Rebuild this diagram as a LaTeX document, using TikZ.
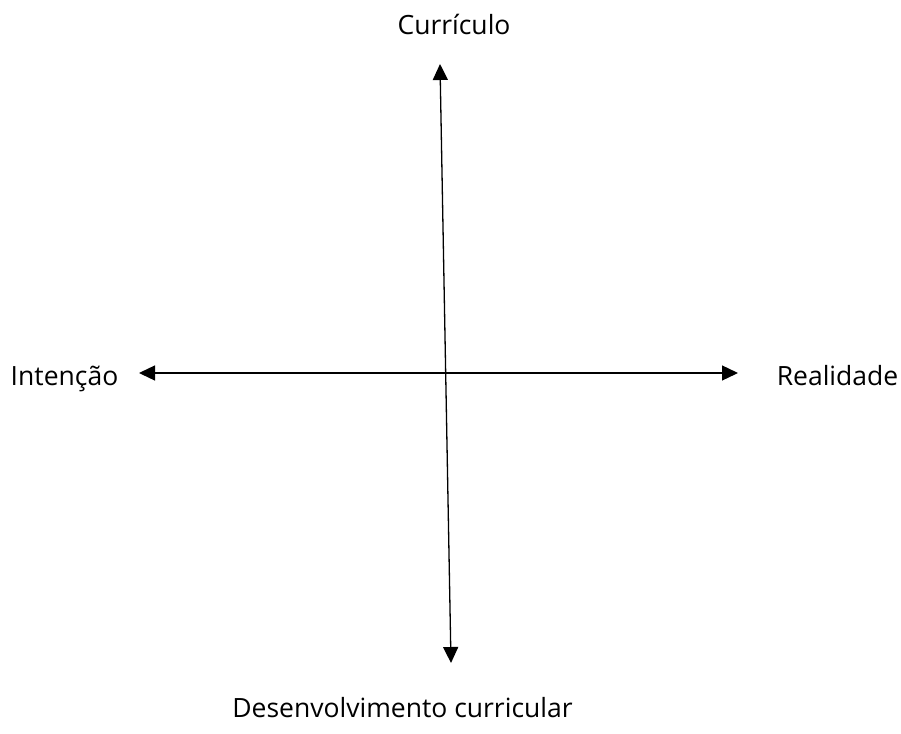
\documentclass[tikz,border=0pt]{standalone}
\usepackage{fontspec}
\setmainfont{Open Sans}
\usepackage{tikz}
\usetikzlibrary{arrows.meta,positioning}

\begin{document}
\begin{tikzpicture}[x=1pt, y=-1pt, >={Triangle[length=16pt,width=15pt]},
    axis/.style={line width=1.3pt, <->},
    lbl/.style={inner sep=0pt, anchor=base, font=\fontsize{26.5}{32}\selectfont}]
      \useasboundingbox (0,0) rectangle (901,733);

      % Axis ends
      \coordinate (top) at (440,64);
      \coordinate (bottom) at (451,663);
      \coordinate (left) at (139,373);
      \coordinate (right) at (738,373);

      % Axes
      \draw[axis] (top) -- (bottom);
      \draw[axis] (left) -- (right);

      % Labels
      \node[lbl] (curriculo) at (454,35) {Currículo};
      \node[lbl] (intencao) at (64.5,385) {Intenção};
      \node[lbl] (realidade) at (837.5,385) {Realidade};
      \node[lbl] (desenv) at (402.5,717) {Desenvolvimento curricular};
\end{tikzpicture}
\end{document}
